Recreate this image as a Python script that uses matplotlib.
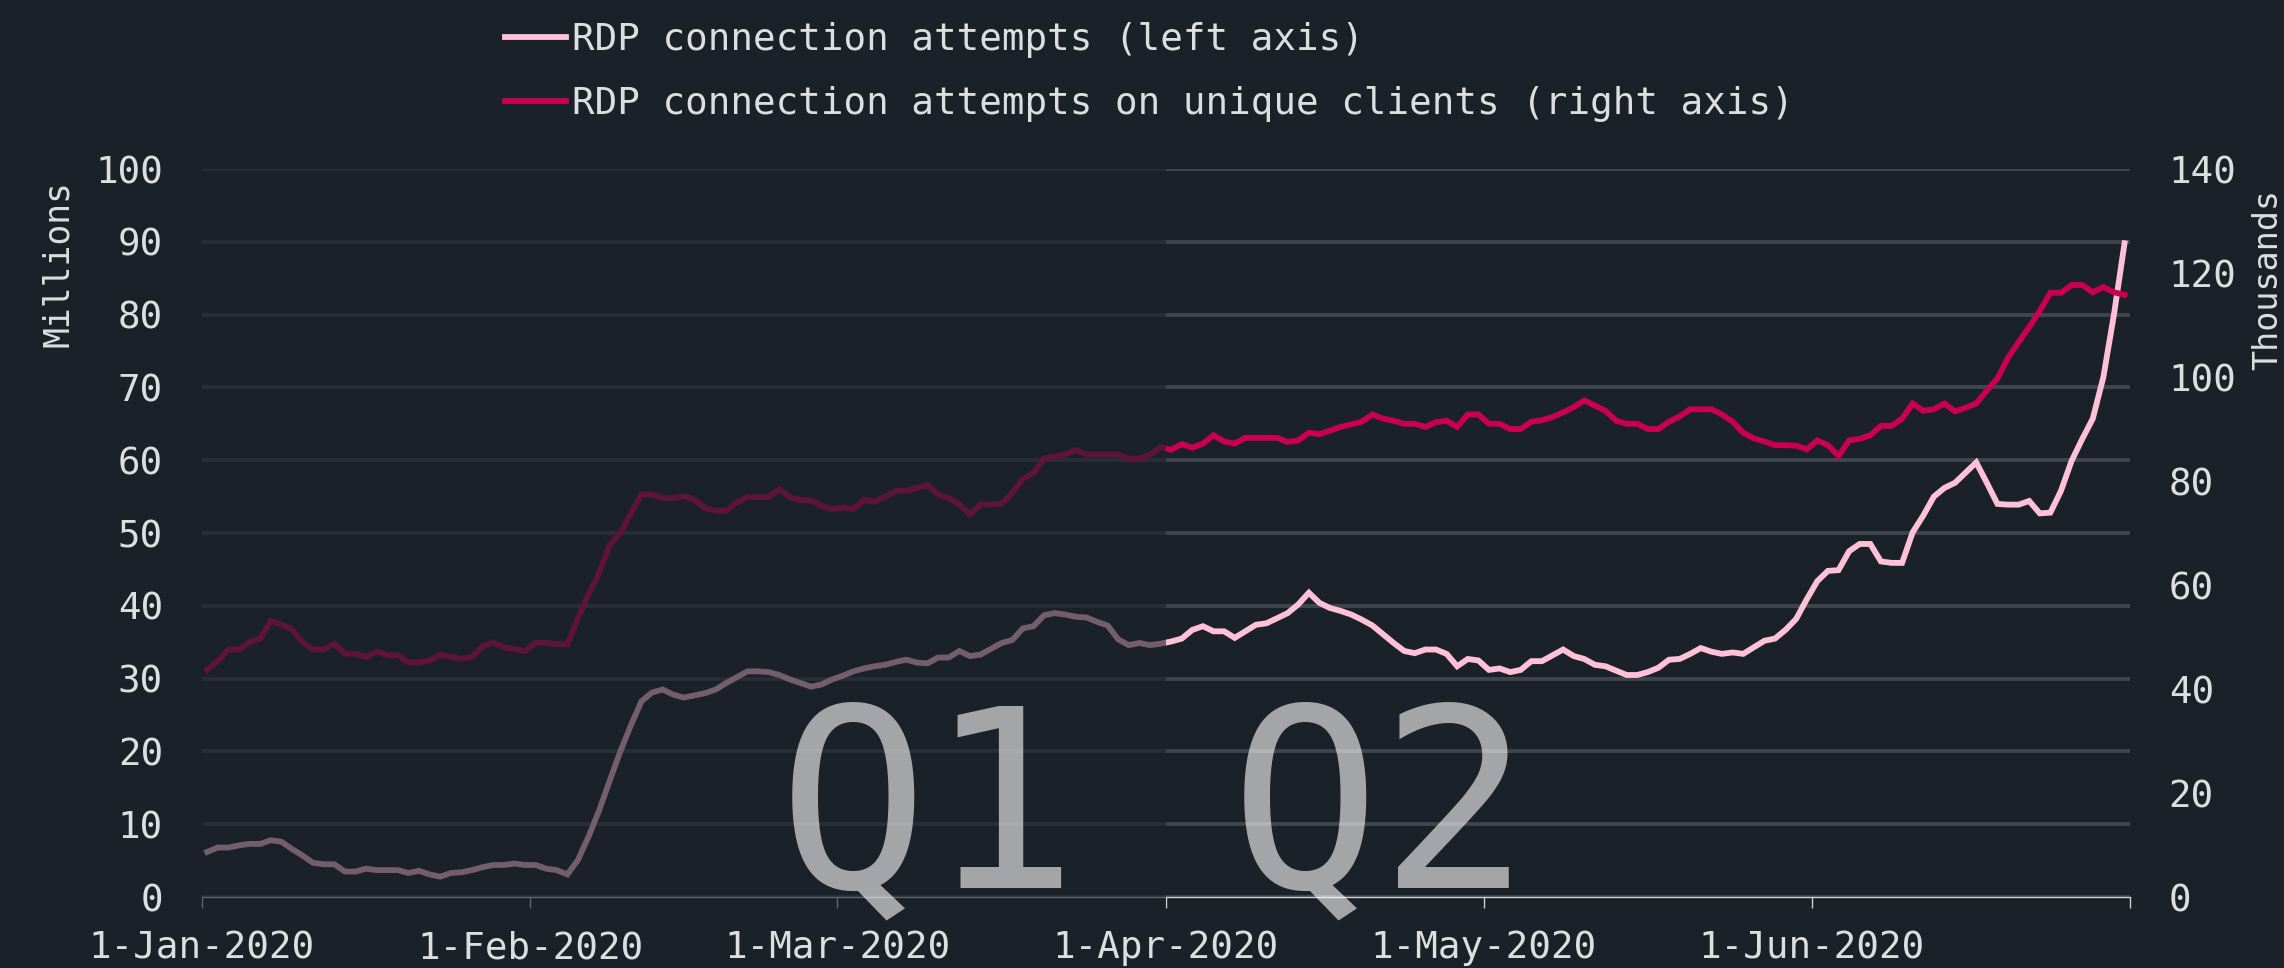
import matplotlib
matplotlib.use("Agg")
import matplotlib.pyplot as plt
import matplotlib.dates as mdates
from matplotlib.patches import Rectangle
import matplotlib.transforms as mtransforms
import pandas as pd

# data ---------------------------------------------------------------
start_day = "2020-01-01 12:00"

# RDP connection attempts, millions (left axis), one value per day
attempts = [
    6.2, 6.8, 6.8, 7.1, 7.3, 7.3, 7.8, 7.6, 6.6, 5.7,
    4.7, 4.5, 4.5, 3.5, 3.5, 3.9, 3.7, 3.7, 3.7, 3.3,
    3.6, 3.1, 2.8, 3.3, 3.4, 3.7, 4.1, 4.4, 4.4, 4.6,
    4.4, 4.4, 3.9, 3.7, 3.1, 5.1, 8.3, 11.9, 16.0, 20.0,
    23.6, 26.9, 28.1, 28.5, 27.8, 27.4, 27.7, 28.0, 28.5, 29.4,
    30.2, 31.0, 31.0, 30.9, 30.5, 29.9, 29.4, 28.9, 29.2, 29.9,
    30.4, 31.0, 31.4, 31.7, 31.9, 32.3, 32.6, 32.2, 32.1, 32.9,
    32.9, 33.8, 33.1, 33.3, 34.1, 34.9, 35.3, 36.9, 37.2, 38.7,
    39.0, 38.8, 38.5, 38.4, 37.8, 37.3, 35.4, 34.6, 34.9, 34.6,
    34.8, 35.1, 35.5, 36.7, 37.2, 36.5, 36.5, 35.6, 36.5, 37.4,
    37.6, 38.3, 39.0, 40.2, 41.8, 40.4, 39.7, 39.3, 38.8, 38.1,
    37.3, 36.1, 34.9, 33.8, 33.5, 34.0, 34.0, 33.4, 31.7, 32.7,
    32.5, 31.2, 31.4, 30.9, 31.2, 32.4, 32.4, 33.2, 34.0, 33.1,
    32.7, 31.9, 31.7, 31.1, 30.5, 30.5, 30.9, 31.5, 32.6, 32.7,
    33.4, 34.2, 33.7, 33.4, 33.6, 33.4, 34.3, 35.2, 35.5, 36.7,
    38.2, 40.9, 43.4, 44.8, 44.9, 47.5, 48.5, 48.5, 46.1, 45.9,
    45.9, 50.1, 52.4, 55.0, 56.2, 56.9, 58.3, 59.7, 56.9, 54.0,
    53.9, 53.9, 54.4, 52.7, 52.8, 55.8, 59.9, 62.9, 65.7, 71.4,
    80.0, 89.8,
]

# RDP connection attempts on unique clients, thousands (right axis)
unique_clients = [
    43.7, 45.4, 47.6, 47.6, 49.0, 49.7, 53.1, 52.4, 51.5, 49.0,
    47.6, 47.6, 48.7, 46.8, 46.8, 46.1, 47.2, 46.5, 46.5, 45.1,
    45.1, 45.5, 46.6, 46.2, 45.8, 46.2, 48.2, 49.0, 48.0, 47.7,
    47.3, 48.9, 48.9, 48.6, 48.6, 53.6, 58.2, 62.3, 67.8, 70.0,
    73.8, 77.4, 77.4, 76.7, 76.7, 77.1, 76.4, 74.8, 74.3, 74.3,
    75.9, 76.9, 76.9, 76.9, 78.4, 76.9, 76.3, 76.3, 75.2, 74.6,
    74.9, 74.6, 76.4, 76.0, 77.0, 78.1, 78.1, 78.7, 79.2, 77.4,
    76.7, 75.5, 73.6, 75.5, 75.5, 75.6, 77.8, 80.4, 81.6, 84.3,
    84.7, 85.1, 86.0, 85.1, 85.1, 85.1, 85.1, 84.3, 84.3, 85.0,
    86.5, 86.0, 87.1, 86.4, 87.2, 88.8, 87.6, 87.2, 88.3, 88.3,
    88.3, 88.3, 87.5, 87.8, 89.3, 89.0, 89.7, 90.4, 90.9, 91.4,
    92.8, 92.0, 91.6, 91.0, 91.0, 90.4, 91.3, 91.6, 90.4, 92.8,
    92.8, 91.0, 91.0, 90.0, 90.0, 91.4, 91.7, 92.3, 93.2, 94.2,
    95.5, 94.5, 93.5, 91.6, 91.0, 91.0, 90.0, 90.0, 91.4, 92.4,
    93.8, 93.8, 93.8, 92.8, 91.4, 89.3, 88.2, 87.6, 86.9, 86.9,
    86.8, 86.1, 87.8, 86.9, 84.8, 87.8, 88.1, 88.8, 90.6, 90.6,
    92.0, 94.9, 93.5, 93.8, 94.9, 93.4, 94.1, 94.9, 97.4, 99.7,
    103.7, 106.7, 109.6, 112.7, 116.2, 116.2, 117.7, 117.7, 116.3, 117.3,
    116.3, 115.8,
]

month_ticks = ["2020-01-01", "2020-02-01", "2020-03-01", "2020-04-01",
               "2020-05-01", "2020-06-01", "2020-07-01"]
month_labels = ["1-Jan-2020", "1-Feb-2020", "1-Mar-2020", "1-Apr-2020",
                "1-May-2020", "1-Jun-2020", ""]
left_ticks = [0, 10, 20, 30, 40, 50, 60, 70, 80, 90, 100]
right_ticks = [0, 20, 40, 60, 80, 100, 120, 140]
q2_start = "2020-04-01"

labels = ["RDP connection attempts (left axis)",
          "RDP connection attempts on unique clients (right axis)"]

# style --------------------------------------------------------------
bg = "#1b2129"
txt = "#dcdfe0"
pink = "#ffc1d9"
red = "#c8004f"
grid_c = "#3e454d"

plt.rcParams["font.family"] = ["DejaVu Sans Mono"]

days = pd.date_range(start_day, periods=len(attempts), freq="D")
ticks = pd.to_datetime(month_ticks)

fig = plt.figure(figsize=(22.84, 9.68), dpi=100, facecolor=bg)
ax = fig.add_axes([0.0884, 0.0733, 0.8441, 0.7521])
ax.set_facecolor(bg)
ax2 = ax.twinx()

l1, = ax.plot(days, attempts, color=pink, lw=4.2, solid_joinstyle="miter", zorder=3)
l2, = ax2.plot(days, unique_clients, color=red, lw=4.2, solid_joinstyle="miter", zorder=3)

ax.set_xlim(ticks[0], ticks[-1])
ax.set_ylim(0, 100)
ax2.set_ylim(0, 140)

ax.set_yticks(left_ticks)
ax2.set_yticks(right_ticks)
ax.set_xticks(ticks)
ax.set_xticklabels(month_labels)

ax.set_axisbelow(True)
ax.grid(axis="y", color=grid_c, lw=2.8)
ax.grid(axis="x", visible=False)

for a in (ax, ax2):
    for s in ("top", "left", "right"):
        a.spines[s].set_visible(False)
ax2.spines["bottom"].set_visible(False)
ax.spines["bottom"].set_color("#cfd2d4")
ax.spines["bottom"].set_linewidth(1.0)

ax.tick_params(axis="y", length=0, pad=28, labelsize=27, labelcolor=txt)
ax2.tick_params(axis="y", length=0, pad=28, labelsize=27, labelcolor=txt)
ax.tick_params(axis="x", length=8, width=1.0, color="#cfd2d4", pad=16,
               labelsize=27, labelcolor=txt)

# dim the first quarter
trans = mtransforms.blended_transform_factory(ax2.transData, ax2.transAxes)
x0 = mdates.date2num(ticks[0]) - 0.3
x1 = mdates.date2num(pd.Timestamp(q2_start))
shade = Rectangle((x0, -0.02), x1 - x0, 1.03, transform=trans, facecolor=bg,
                  alpha=0.62, edgecolor="none", clip_on=False, zorder=5)
ax2.add_patch(shade)

# big quarter labels, lifted a little so the Q tail stays clear of the ticks
for xpos, word in [(0.3766, "Q1"), (0.611, "Q2")]:
    ax2.text(xpos, 0.0135, word, transform=ax2.transAxes, ha="center",
             va="baseline", fontsize=180, color="white", alpha=0.6, zorder=6)

fig.text(0.0254, 0.7273, "Millions", rotation=90, ha="center", va="center",
         fontsize=25, color=txt)
fig.text(0.9855, 0.711, "Thousands", rotation=90, ha="left", va="center",
         fontsize=24, color=txt)

fig.legend(handles=[l1, l2], labels=labels, loc="upper left",
           bbox_to_anchor=(505 / 2284, 1 - 22 / 968), frameon=False,
           borderaxespad=0, borderpad=0, handlelength=1.63, handletextpad=0.16,
           labelspacing=0.74, fontsize=27, labelcolor=txt)

fig.savefig("out.png", dpi=100, facecolor=bg)
